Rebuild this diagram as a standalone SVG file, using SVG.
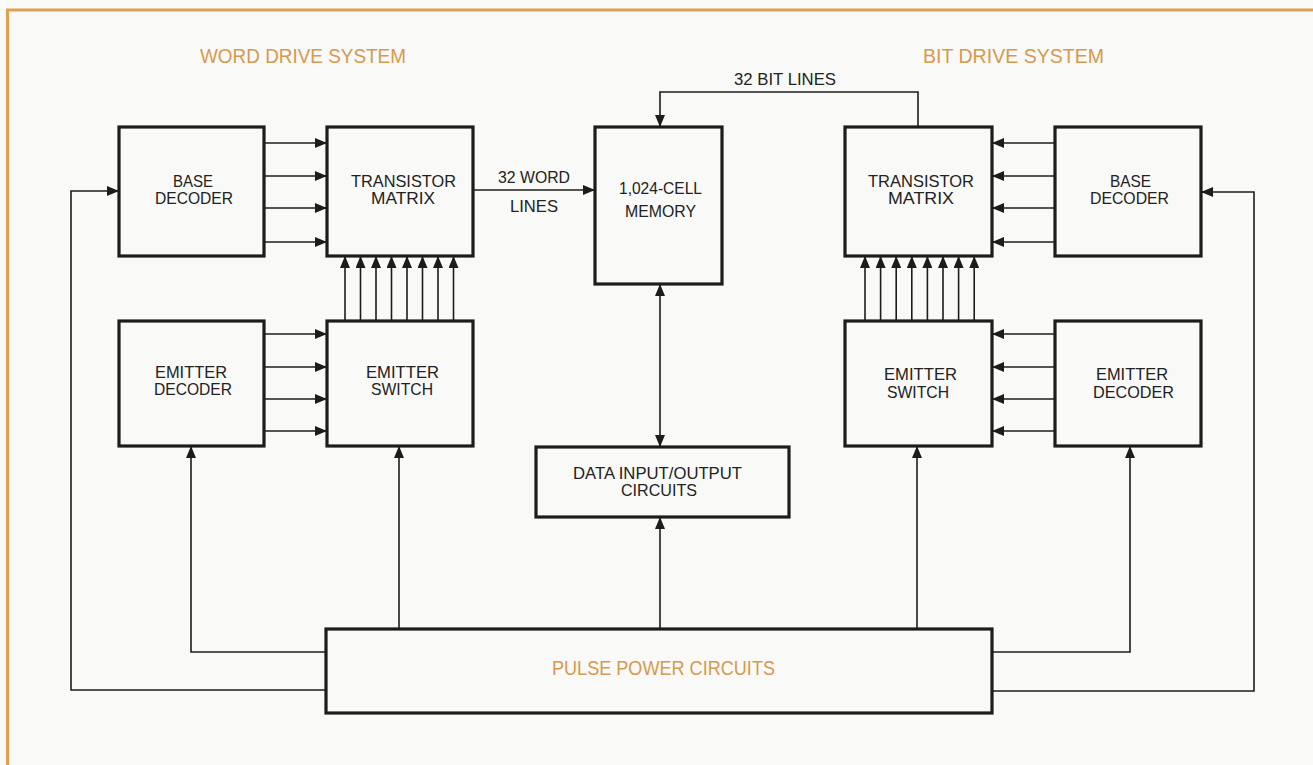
<svg xmlns="http://www.w3.org/2000/svg" width="1313" height="765" viewBox="0 0 1313 765">
<defs>
<marker id="ah" markerUnits="userSpaceOnUse" markerWidth="13" markerHeight="10" refX="12" refY="5" orient="auto-start-reverse" viewBox="0 0 13 10">
<path d="M0,0 L12,5 L0,10 Z" fill="#1c1c1c"/>
</marker>
</defs>
<style>
.box{fill:none;stroke:#1c1c1c;stroke-width:3.2}
.ln{fill:none;stroke:#1c1c1c;stroke-width:1.6}
.a{marker-end:url(#ah)}
.lbl{font-family:"Liberation Sans",Arial,sans-serif;font-size:17px;fill:#222}
.ttl{font-family:"Liberation Sans",Arial,sans-serif;font-size:19.5px;fill:#D6994E}
</style>
<rect x="0" y="0" width="1313" height="765" fill="#F9F9F7"/>
<path d="M7.5,765 V10 H1313" fill="none" stroke="#DFA050" stroke-width="3"/>

<text class="ttl" x="200" y="63" textLength="206" lengthAdjust="spacingAndGlyphs">WORD DRIVE SYSTEM</text>
<text class="ttl" x="923" y="63" textLength="181" lengthAdjust="spacingAndGlyphs">BIT DRIVE SYSTEM</text>

<g id="connectors">
<path class="ln a" d="M264,143 H327"/>
<path class="ln a" d="M264,176 H327"/>
<path class="ln a" d="M264,208 H327"/>
<path class="ln a" d="M264,242 H327"/>
<path class="ln a" d="M264,334 H327"/>
<path class="ln a" d="M264,367 H327"/>
<path class="ln a" d="M264,399 H327"/>
<path class="ln a" d="M264,431 H327"/>
<path class="ln a" d="M1055,143 H992"/>
<path class="ln a" d="M1055,176 H992"/>
<path class="ln a" d="M1055,208 H992"/>
<path class="ln a" d="M1055,242 H992"/>
<path class="ln a" d="M1055,334 H992"/>
<path class="ln a" d="M1055,367 H992"/>
<path class="ln a" d="M1055,399 H992"/>
<path class="ln a" d="M1055,431 H992"/>
<path class="ln a" d="M345,321 V256"/>
<path class="ln a" d="M360.5,321 V256"/>
<path class="ln a" d="M376,321 V256"/>
<path class="ln a" d="M391.5,321 V256"/>
<path class="ln a" d="M407,321 V256"/>
<path class="ln a" d="M422.5,321 V256"/>
<path class="ln a" d="M438,321 V256"/>
<path class="ln a" d="M453.5,321 V256"/>
<path class="ln a" d="M865,321 V256"/>
<path class="ln a" d="M880.6,321 V256"/>
<path class="ln a" d="M896.2,321 V256"/>
<path class="ln a" d="M911.8,321 V256"/>
<path class="ln a" d="M927.4,321 V256"/>
<path class="ln a" d="M943,321 V256"/>
<path class="ln a" d="M958.6,321 V256"/>
<path class="ln a" d="M974.2,321 V256"/>
<path class="ln a" d="M473,190 H595"/>
<path class="ln a" d="M918,127 V92 H660 V127"/>
<path class="ln a" d="M660,284 V447" marker-start="url(#ah)"/>
<path class="ln a" d="M660,629 V517"/>
<path class="ln a" d="M399,629 V446"/>
<path class="ln a" d="M917,629 V446"/>
<path class="ln a" d="M326,652 H191 V446"/>
<path class="ln a" d="M992,652 H1130 V446"/>
<path class="ln a" d="M326,690 H71 V191 H119"/>
<path class="ln a" d="M992,691 H1254 V192 H1201"/>
</g>

<g id="base-decoder-word">
<rect class="box" x="119" y="127" width="145" height="129"/>
<text class="lbl" x="173" y="187" textLength="40" lengthAdjust="spacingAndGlyphs">BASE</text>
<text class="lbl" x="155" y="204" textLength="78" lengthAdjust="spacingAndGlyphs">DECODER</text>
</g>
<g id="transistor-matrix-word">
<rect class="box" x="327" y="127" width="146" height="129"/>
<text class="lbl" x="351" y="187" textLength="105" lengthAdjust="spacingAndGlyphs">TRANSISTOR</text>
<text class="lbl" x="371" y="204" textLength="64" lengthAdjust="spacingAndGlyphs">MATRIX</text>
</g>
<g id="word-lines-label">
<text class="lbl" x="498" y="183" textLength="72" lengthAdjust="spacingAndGlyphs">32 WORD</text>
<text class="lbl" x="510" y="212" textLength="48" lengthAdjust="spacingAndGlyphs">LINES</text>
</g>
<g id="bit-lines-label">
<text class="lbl" x="734" y="85" textLength="102" lengthAdjust="spacingAndGlyphs">32 BIT LINES</text>
</g>
<g id="memory">
<rect class="box" x="595" y="127" width="127" height="157"/>
<text class="lbl" x="619" y="194" textLength="83" lengthAdjust="spacingAndGlyphs">1,024-CELL</text>
<text class="lbl" x="625" y="217" textLength="71" lengthAdjust="spacingAndGlyphs">MEMORY</text>
</g>
<g id="transistor-matrix-bit">
<rect class="box" x="845" y="127" width="147" height="129"/>
<text class="lbl" x="868" y="187" textLength="106" lengthAdjust="spacingAndGlyphs">TRANSISTOR</text>
<text class="lbl" x="888" y="204" textLength="66" lengthAdjust="spacingAndGlyphs">MATRIX</text>
</g>
<g id="base-decoder-bit">
<rect class="box" x="1055" y="127" width="146" height="129"/>
<text class="lbl" x="1110" y="187" textLength="41" lengthAdjust="spacingAndGlyphs">BASE</text>
<text class="lbl" x="1090" y="204" textLength="79" lengthAdjust="spacingAndGlyphs">DECODER</text>
</g>
<g id="emitter-decoder-word">
<rect class="box" x="119" y="321" width="145" height="125"/>
<text class="lbl" x="155" y="378" textLength="72" lengthAdjust="spacingAndGlyphs">EMITTER</text>
<text class="lbl" x="154" y="395" textLength="78" lengthAdjust="spacingAndGlyphs">DECODER</text>
</g>
<g id="emitter-switch-word">
<rect class="box" x="327" y="321" width="146" height="125"/>
<text class="lbl" x="366" y="378" textLength="73" lengthAdjust="spacingAndGlyphs">EMITTER</text>
<text class="lbl" x="371" y="395" textLength="62" lengthAdjust="spacingAndGlyphs">SWITCH</text>
</g>
<g id="emitter-switch-bit">
<rect class="box" x="845" y="321" width="147" height="125"/>
<text class="lbl" x="884" y="380" textLength="73" lengthAdjust="spacingAndGlyphs">EMITTER</text>
<text class="lbl" x="887" y="398" textLength="62" lengthAdjust="spacingAndGlyphs">SWITCH</text>
</g>
<g id="emitter-decoder-bit">
<rect class="box" x="1055" y="321" width="146" height="125"/>
<text class="lbl" x="1096" y="380" textLength="72" lengthAdjust="spacingAndGlyphs">EMITTER</text>
<text class="lbl" x="1093" y="398" textLength="81" lengthAdjust="spacingAndGlyphs">DECODER</text>
</g>
<g id="data-io">
<rect class="box" x="536" y="447" width="253" height="70"/>
<text class="lbl" x="573" y="479" textLength="169" lengthAdjust="spacingAndGlyphs">DATA INPUT/OUTPUT</text>
<text class="lbl" x="621" y="496" textLength="76" lengthAdjust="spacingAndGlyphs">CIRCUITS</text>
</g>
<g id="pulse-power">
<rect class="box" x="326" y="629" width="666" height="84"/>
<text class="ttl" x="552" y="675" textLength="223" lengthAdjust="spacingAndGlyphs">PULSE POWER CIRCUITS</text>
</g>
</svg>
